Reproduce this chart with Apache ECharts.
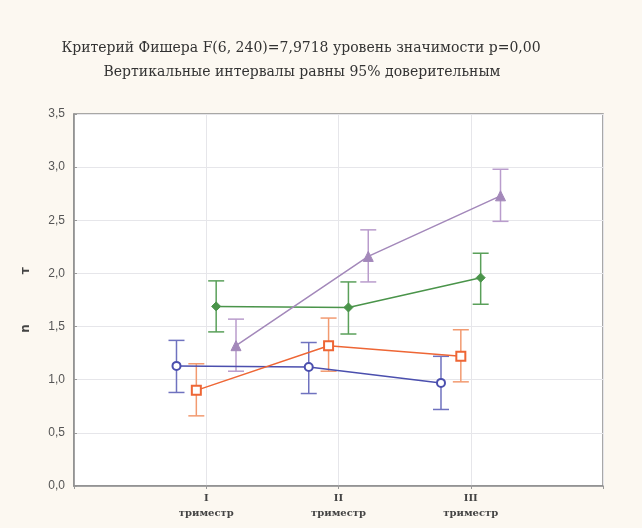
<!DOCTYPE html>
<html>
<head>
<meta charset="utf-8">
<script src="https://cdn.jsdelivr.net/npm/echarts@6/dist/echarts.min.js"></script>
<style>
html,body{margin:0;padding:0;background:#fcf8f1;}
#c{width:642px;height:528px;}
</style>
</head>
<body>
<div id="c"></div>
<script>
var categories = ['I', 'II', 'III'];
var xTickLabels = ['I\nтриместр', 'II\nтриместр', 'III\nтриместр'];
var yTickLabels = ['0,0', '0,5', '1,0', '1,5', '2,0', '2,5', '3,0', '3,5'];

var blueMean = [1.13, 1.12, 0.97];
var blueLow = [0.88, 0.87, 0.72];
var blueHigh = [1.37, 1.35, 1.22];

var orangeMean = [0.90, 1.32, 1.22];
var orangeLow = [0.66, 1.08, 0.98];
var orangeHigh = [1.15, 1.58, 1.47];

var greenMean = [1.69, 1.68, 1.96];
var greenLow = [1.45, 1.43, 1.71];
var greenHigh = [1.93, 1.92, 2.19];

var purpleMean = [1.32, 2.16, 2.73];
var purpleLow = [1.08, 1.92, 2.49];
var purpleHigh = [1.57, 2.41, 2.98];

var titleLine1 = 'Критерий Фишера F(6, 240)=7,9718 уровень значимости p=0,00';
var titleLine2 = 'Вертикальные интервалы равны 95% доверительным';
var yName = 'n            т';

var groups = [
  {mean: blueMean, low: blueLow, high: blueHigh, color: '#4b4fae', bar: '#6f72bf', symbol: 'circle', size: 8, hollow: true, dodge: -0.225},
  {mean: orangeMean, low: orangeLow, high: orangeHigh, color: '#ee6635', bar: '#f29a70', symbol: 'rect', size: 9, hollow: true, dodge: -0.075},
  {mean: greenMean, low: greenLow, high: greenHigh, color: '#4a944a', bar: '#5aa05a', symbol: 'diamond', size: 9, hollow: false, dodge: 0.075},
  {mean: purpleMean, low: purpleLow, high: purpleHigh, color: '#a388ba', bar: '#b99ccc', symbol: 'triangle', size: 10, hollow: false, dodge: 0.225}
];

var series = [];
groups.forEach(function (g, gi) {
  var pts = categories.map(function (c, i) { return [i + 1 + g.dodge, g.mean[i]]; });
  var bars = categories.map(function (c, i) { return [i + 1 + g.dodge, g.low[i], g.high[i]]; });
  series.push({
    type: 'custom',
    name: 'err' + gi,
    data: bars,
    z: 2,
    renderItem: function (params, api) {
      var x = api.value(0);
      var lo = api.coord([x, api.value(1)]);
      var hi = api.coord([x, api.value(2)]);
      var w = 8;
      var st = {stroke: g.bar, lineWidth: 1.5};
      return {
        type: 'group',
        children: [
          {type: 'line', shape: {x1: lo[0], y1: lo[1], x2: hi[0], y2: hi[1]}, style: st},
          {type: 'line', shape: {x1: lo[0] - w, y1: lo[1], x2: lo[0] + w, y2: lo[1]}, style: st},
          {type: 'line', shape: {x1: hi[0] - w, y1: hi[1], x2: hi[0] + w, y2: hi[1]}, style: st}
        ]
      };
    },
    encode: {x: 0, y: [1, 2]},
    silent: true
  });
  series.push({
    type: 'line',
    name: 'g' + gi,
    data: pts,
    z: 3,
    symbol: g.symbol,
    symbolSize: g.size,
    showAllSymbol: true,
    lineStyle: {color: g.color, width: 1.5},
    itemStyle: g.hollow ? {color: '#ffffff', borderColor: g.color, borderWidth: 2} : {color: g.color, borderColor: g.color, borderWidth: 1},
    silent: true
  });
});

var titleStyle = {fontFamily: 'DejaVu Serif', fontSize: 14, fill: '#333', textAlign: 'center', textVerticalAlign: 'middle'};

var chart = echarts.init(document.getElementById('c'), null, {renderer: 'canvas'});
chart.setOption({
  animation: false,
  backgroundColor: '#fcf8f1',
  graphic: [
    {type: 'text', x: 301, y: 48, style: Object.assign({text: titleLine1}, titleStyle), silent: true},
    {type: 'text', x: 302, y: 72, style: Object.assign({text: titleLine2}, titleStyle), silent: true}
  ],
  grid: {left: 74, right: 39, top: 114, bottom: 42, show: true, backgroundColor: '#ffffff', borderColor: '#8c8c8c', borderWidth: 1.5},
  xAxis: {
    type: 'value', min: 0, max: 4, interval: 1,
    axisLine: {show: true, lineStyle: {color: '#8c8c8c', width: 1.5}},
    axisTick: {show: true, length: 3, lineStyle: {color: '#999'}},
    splitLine: {show: true, lineStyle: {color: '#e6e6ea', width: 1}},
    axisLabel: {
      fontFamily: 'DejaVu Serif', fontSize: 10, fontWeight: 'bold', color: '#444', lineHeight: 15, margin: 5,
      formatter: function (v) { return (v >= 1 && v <= categories.length) ? xTickLabels[v - 1] : ''; }
    }
  },
  yAxis: {
    type: 'value', min: 0, max: 3.5, interval: 0.5,
    name: yName, nameLocation: 'middle', nameGap: 42, nameRotate: 90,
    nameTextStyle: {fontFamily: 'DejaVu Sans', fontSize: 12, fontWeight: 'bold', color: '#444'},
    axisLine: {show: true, lineStyle: {color: '#8c8c8c', width: 1.5}},
    axisTick: {show: true, length: 3, inside: true, lineStyle: {color: '#999'}},
    splitLine: {show: true, lineStyle: {color: '#e6e6ea', width: 1}},
    axisLabel: {
      fontFamily: 'Liberation Sans', fontSize: 12, color: '#555', margin: 9,
      formatter: function (v) { return yTickLabels[Math.round(v / 0.5)]; }
    }
  },
  series: series
});
</script>
</body>
</html>
